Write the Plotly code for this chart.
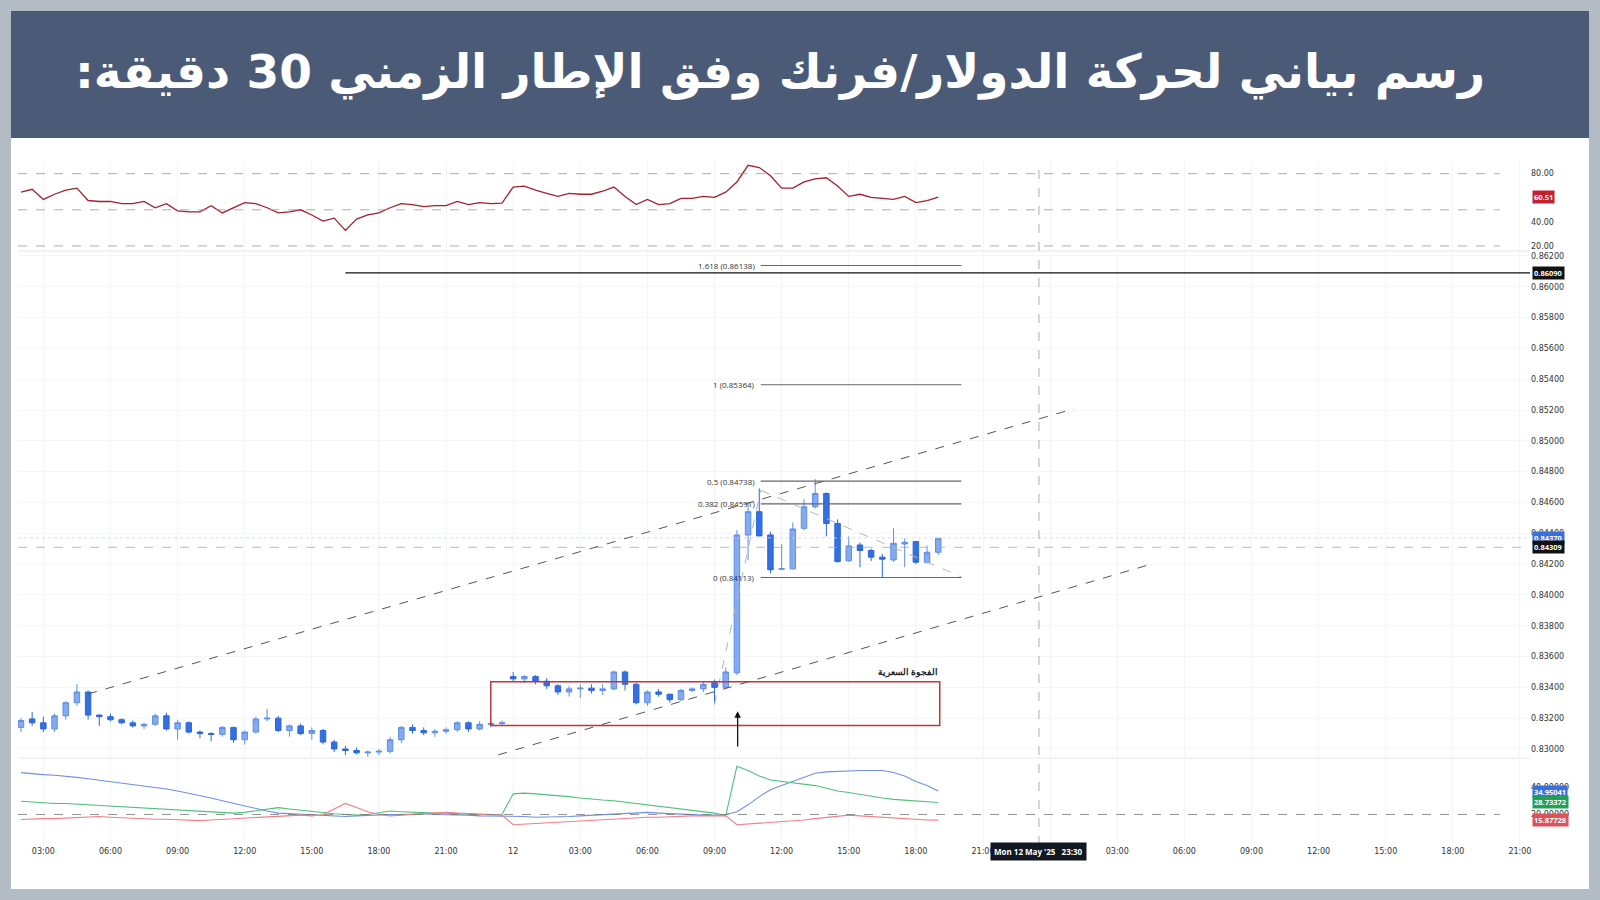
import plotly.graph_objects as go
import pandas as pd

# ---- data (30 minute candles, 11 May 02:00 -> 12 May 19:00) ----
times = pd.date_range('2025-05-11 02:00', periods=83, freq='30min')

opens = [0.83140, 0.83195, 0.83170, 0.83130, 0.83215, 0.83300, 0.83370, 0.83220, 0.83210, 0.83190,
         0.83170, 0.83150, 0.83160, 0.83215, 0.83130, 0.83170, 0.83110, 0.83100, 0.83095, 0.83140,
         0.83060, 0.83110, 0.83195, 0.83200, 0.83120, 0.83150, 0.83100, 0.83120, 0.83045, 0.83000,
         0.82990, 0.82975, 0.82980, 0.82985, 0.83060, 0.83140, 0.83120, 0.83105, 0.83115, 0.83125,
         0.83170, 0.83130, 0.83160, 0.83165, 0.83470, 0.83455, 0.83470, 0.83440, 0.83410, 0.83370,
         0.83390, 0.83395, 0.83380, 0.83390, 0.83500, 0.83420, 0.83300, 0.83370, 0.83355, 0.83320,
         0.83380, 0.83390, 0.83430, 0.83400, 0.83495, 0.84389, 0.84540, 0.84389, 0.84167, 0.84169,
         0.84432, 0.84572, 0.84658, 0.84464, 0.84221, 0.84324, 0.84288, 0.84245, 0.84227, 0.84331,
         0.84346, 0.84210, 0.84277]
highs = [0.83200, 0.83240, 0.83210, 0.83230, 0.83310, 0.83420, 0.83380, 0.83225, 0.83230, 0.83200,
         0.83185, 0.83170, 0.83230, 0.83235, 0.83190, 0.83180, 0.83120, 0.83110, 0.83150, 0.83145,
         0.83120, 0.83210, 0.83260, 0.83215, 0.83160, 0.83165, 0.83140, 0.83130, 0.83060, 0.83020,
         0.83010, 0.82990, 0.83000, 0.83080, 0.83150, 0.83160, 0.83140, 0.83130, 0.83140, 0.83180,
         0.83180, 0.83180, 0.83175, 0.83185, 0.83500, 0.83480, 0.83480, 0.83460, 0.83420, 0.83410,
         0.83420, 0.83420, 0.83420, 0.83510, 0.83510, 0.83430, 0.83380, 0.83390, 0.83360, 0.83390,
         0.83400, 0.83440, 0.83450, 0.83530, 0.84420, 0.84594, 0.84691, 0.84410, 0.84329, 0.84470,
         0.84620, 0.84751, 0.84665, 0.84490, 0.84380, 0.84340, 0.84300, 0.84265, 0.84432, 0.84367,
         0.84350, 0.84320, 0.84370]
lows = [0.83110, 0.83150, 0.83110, 0.83110, 0.83190, 0.83280, 0.83190, 0.83150, 0.83180, 0.83160,
        0.83140, 0.83130, 0.83150, 0.83120, 0.83060, 0.83100, 0.83070, 0.83050, 0.83080, 0.83040,
        0.83030, 0.83100, 0.83180, 0.83110, 0.83080, 0.83090, 0.83060, 0.83030, 0.82980, 0.82960,
        0.82965, 0.82950, 0.82960, 0.82970, 0.83040, 0.83100, 0.83090, 0.83080, 0.83100, 0.83110,
        0.83110, 0.83120, 0.83140, 0.83150, 0.83440, 0.83430, 0.83420, 0.83390, 0.83350, 0.83340,
        0.83330, 0.83360, 0.83350, 0.83380, 0.83380, 0.83290, 0.83280, 0.83340, 0.83300, 0.83310,
        0.83370, 0.83370, 0.83290, 0.83390, 0.83480, 0.84227, 0.84380, 0.84140, 0.84160, 0.84165,
        0.84420, 0.84560, 0.84380, 0.84210, 0.84215, 0.84180, 0.84220, 0.84113, 0.84215, 0.84180,
        0.84200, 0.84205, 0.84260]
closes = [0.83185, 0.83170, 0.83130, 0.83215, 0.83300, 0.83370, 0.83220, 0.83210, 0.83190, 0.83170,
          0.83150, 0.83160, 0.83215, 0.83130, 0.83170, 0.83110, 0.83100, 0.83095, 0.83140, 0.83060,
          0.83110, 0.83195, 0.83200, 0.83120, 0.83150, 0.83100, 0.83120, 0.83045, 0.83000, 0.82990,
          0.82975, 0.82980, 0.82985, 0.83060, 0.83140, 0.83120, 0.83105, 0.83115, 0.83125, 0.83170,
          0.83130, 0.83160, 0.83165, 0.83170, 0.83455, 0.83470, 0.83440, 0.83410, 0.83370, 0.83390,
          0.83395, 0.83380, 0.83390, 0.83500, 0.83420, 0.83300, 0.83370, 0.83355, 0.83320, 0.83380,
          0.83390, 0.83420, 0.83400, 0.83500, 0.84389, 0.84540, 0.84383, 0.84163, 0.84170, 0.84428,
          0.84572, 0.84658, 0.84464, 0.84216, 0.84318, 0.84288, 0.84245, 0.84232, 0.84335, 0.84341,
          0.84212, 0.84277, 0.84367]

rsi = [64.6, 67, 58.6, 62.9, 66.3, 68, 57.7, 56.9, 56.9, 55.1, 55.1, 56.9, 51.7, 55.1, 49.1, 48.3,
       48.3, 53.4, 47.4, 51.7, 56, 55.1, 51.7, 47.4, 48.3, 50, 45.7, 40.6, 43.1, 32.9, 42.3, 45.7,
       47.4, 51.7, 55.1, 54.3, 52.6, 53.4, 53.4, 56.9, 54.3, 56, 55.1, 55.5, 68.9, 69.7, 66.3, 63.7,
       61.1, 63.7, 62.9, 62.9, 65.4, 68.9, 61.1, 54.3, 58.6, 54.3, 55.1, 59.4, 59.4, 61.1, 60.3, 64.6,
       73.1, 86.9, 85.1, 78.3, 68, 68, 73.1, 75.7, 76.6, 69.7, 61.1, 62.9, 60.3, 59.4, 58.6, 61.1,
       56, 57.7, 60.5]

adx = [50.4, 49.5, 49, 48.5, 48, 47, 46, 45, 44, 43, 42, 41, 40, 38.5, 37, 35.5, 34, 32, 30, 28,
       26, 24, 22.5, 21, 20.5, 20, 19.5, 19, 18.5, 18.5, 19, 19.5, 19.5, 20, 20, 20.5, 20.5, 20, 20,
       19.5, 19.5, 19, 19, 19, 18.5, 18.5, 18, 18, 18, 18.5, 19, 19.5, 20, 20.5, 21, 21.5, 21.5, 21,
       20.5, 20, 20, 19.5, 19.5, 20, 22, 27, 33, 38, 41, 44, 47, 50, 51, 51.5, 52, 52, 52, 52, 50.5,
       48, 44, 41, 37]
plus_di = [29.6, 29, 28.5, 28, 28, 27.5, 27, 27, 26.5, 26, 25.5, 25, 24.5, 24, 23.5, 23, 22.5, 22,
           21.5, 21, 21.5, 22.5, 24, 25, 24, 23, 22, 21, 20.5, 20, 19.5, 20, 21.5, 22.5, 22, 21.5, 21,
           21, 21, 20.5, 20.5, 20, 20, 20, 35, 35.5, 35, 34.5, 34, 33, 32, 31, 30.5, 30, 29, 28, 27, 26,
           25, 24, 23, 22, 21, 19, 55, 52, 48, 45, 44, 43, 42, 41, 39, 37, 36, 34.5, 33.5, 32, 31, 30.5,
           30, 29.5, 28.7]
minus_di = [16.3, 16.8, 17, 17, 17.5, 18, 18.5, 18.5, 18, 17.5, 17.5, 17, 16.5, 16.5, 16, 15.5, 15.5,
            16, 16.5, 17, 17.5, 18, 18.5, 19, 19.5, 19.5, 19, 20, 24, 28, 25, 22, 20, 19, 19.5, 20, 20.5,
            21, 21.5, 21, 20.5, 20, 19.5, 19.5, 12.5, 13, 13, 13.5, 14, 14.5, 15, 15.5, 16, 16.5, 17, 17.5,
            18, 18, 18.5, 18.5, 19, 19, 19, 19, 12.5, 13, 13.5, 14, 14.5, 15, 16, 17, 18, 19, 19.5, 19,
            18.5, 18, 17, 16.5, 16, 16, 15.9]

# fibonacci levels
fib_names = ['1.618', '1', '0.5', '0.382', '0']
fib_prices = [0.86138, 0.85364, 0.84738, 0.84591, 0.84113]
fib_start, fib_end = '2025-05-12 11:04', '2025-05-12 20:02'

# channel / drawing points
upper_ch = (['2025-05-11 05:00', '2025-05-13 01:04'], [0.83357, 0.85208])
lower_ch = (['2025-05-11 23:20', '2025-05-13 04:36'], [0.82962, 0.84203])
zig_x = ['2025-05-12 09:00', '2025-05-12 11:04', '2025-05-12 20:02']
zig_y = [0.83291, 0.84679, 0.84117]
gap_box = (['2025-05-11 23:00', '2025-05-12 19:04'], [0.83152, 0.83436])
arrow_pt = ('2025-05-12 10:02', 0.83007, 0.83245)
cross_t = '2025-05-12 23:30'
level_line = ('2025-05-11 16:30', '2025-05-13 21:27', 0.86090)
last_price, bid_price = 0.84309, 0.84370

tick_vals = pd.date_range('2025-05-11 03:00', '2025-05-13 21:00', freq='3h')
tick_text = ['12' if (t.hour == 0 and t.day == 12) else ('13' if t.hour == 0 else t.strftime('%H:%M'))
             for t in tick_vals]

# ---- figure ----
W, H = 1600, 900
L, R, T, B = 18, 1530, 161, 845


def px(x):
    return (x - L) / (R - L)


def py(y):
    return (B - y) / (B - T)


fig = go.Figure()

fig.add_trace(go.Candlestick(
    x=times, open=opens, high=highs, low=lows, close=closes, yaxis='y2',
    increasing=dict(line=dict(color='#5d8ee9', width=1), fillcolor='#85aaf0'),
    decreasing=dict(line=dict(color='#2e68dd', width=1), fillcolor='#3470e0'),
    whiskerwidth=0, showlegend=False, hoverinfo='skip'))

fig.add_trace(go.Scatter(x=times, y=rsi, yaxis='y', mode='lines',
                         line=dict(color='#a3202c', width=1.3), showlegend=False, hoverinfo='skip'))

for vals, col in [(adx, '#6f8fe8'), (plus_di, '#4fbf7a'), (minus_di, '#f07f86')]:
    fig.add_trace(go.Scatter(x=times, y=vals, yaxis='y3', mode='lines',
                             line=dict(color=col, width=1.1), showlegend=False, hoverinfo='skip'))

shapes = []
# banner + white panel
shapes.append(dict(type='rect', xref='paper', yref='paper', x0=px(11), x1=px(1589), y0=py(11), y1=py(138),
                   fillcolor='#4b5b77', line=dict(width=0), layer='below'))
shapes.append(dict(type='rect', xref='paper', yref='paper', x0=px(11), x1=px(1589), y0=py(138), y1=py(889),
                   fillcolor='white', line=dict(width=0), layer='below'))
# pane separators
for yy in [251, 758]:
    shapes.append(dict(type='line', xref='paper', yref='paper', x0=0, x1=1, y0=py(yy), y1=py(yy),
                       line=dict(color='#e6e6e6', width=1)))
# rsi levels
for lv in [80, 50, 20]:
    shapes.append(dict(type='line', xref='paper', yref='y', x0=0, x1=0.98, y0=lv, y1=lv,
                       line=dict(color='#999999', width=0.8, dash='dash')))
shapes.append(dict(type='line', xref='paper', yref='y3', x0=0, x1=0.98, y0=20, y1=20,
                   line=dict(color='#777777', width=0.8, dash='dash')))
# price lines
shapes.append(dict(type='line', xref='x', yref='y2', x0=level_line[0], x1=level_line[1],
                   y0=level_line[2], y1=level_line[2], line=dict(color='#111111', width=1.4)))
shapes.append(dict(type='line', xref='paper', yref='y2', x0=0, x1=1, y0=last_price, y1=last_price,
                   line=dict(color='#aaaaaa', width=0.8, dash='dash')))
shapes.append(dict(type='line', xref='paper', yref='y2', x0=0, x1=1, y0=bid_price, y1=bid_price,
                   line=dict(color='#c8d4ea', width=0.8, dash='dot')))
for fp in fib_prices:
    shapes.append(dict(type='line', xref='x', yref='y2', x0=fib_start, x1=fib_end, y0=fp, y1=fp,
                       line=dict(color='#666666', width=1.2)))
for cx, cy in [upper_ch, lower_ch]:
    shapes.append(dict(type='line', xref='x', yref='y2', x0=cx[0], x1=cx[1], y0=cy[0], y1=cy[1],
                       line=dict(color='#555555', width=1, dash='dash')))
for k in range(2):
    shapes.append(dict(type='line', xref='x', yref='y2', x0=zig_x[k], x1=zig_x[k + 1], y0=zig_y[k], y1=zig_y[k + 1],
                       line=dict(color='#b5b5b5', width=1, dash='dash')))
shapes.append(dict(type='rect', xref='x', yref='y2', x0=gap_box[0][0], x1=gap_box[0][1],
                   y0=gap_box[1][0], y1=gap_box[1][1], line=dict(color='#c4323c', width=1.5)))
shapes.append(dict(type='line', xref='x', yref='paper', x0=cross_t, x1=cross_t, y0=0, y1=1,
                   line=dict(color='#999999', width=0.8, dash='dash')))
fig.update_layout(shapes=shapes)

ann = []
title_text = '\u202bرسم بياني لحركة الدولار/فرنك وفق الإطار الزمني 30 دقيقة:\u202c'
ann.append(dict(text=f'<b>{title_text}</b>', xref='paper', yref='paper',
                x=px(780), y=py(72), yanchor='middle', showarrow=False,
                font=dict(size=47, color='white', family='DejaVu Sans')))
for nm, fp in zip(fib_names, fib_prices):
    ann.append(dict(text=f'{nm} ({fp:.5f})', xref='x', yref='y2', x=fib_start, y=fp, xanchor='right',
                    xshift=-4, showarrow=False, font=dict(size=8, color='#333')))
ann.append(dict(text='<b>الفجوة السعرية</b>', xref='x', yref='y2', x=gap_box[0][1], y=gap_box[1][1],
                xanchor='right', yanchor='bottom', yshift=2, showarrow=False, font=dict(size=9, color='#222')))
ann.append(dict(x=arrow_pt[0], y=arrow_pt[2], ax=arrow_pt[0], ay=arrow_pt[1], xref='x', yref='y2',
                axref='x', ayref='y2', showarrow=True, arrowhead=2, arrowwidth=1.3, arrowcolor='#111', text=''))


def tag(text, yref, y, bg, fg='white'):
    ann.append(dict(text=f'<b>{text}</b>', xref='paper', yref=yref, x=1.001, y=y, xanchor='left',
                    showarrow=False, bgcolor=bg, font=dict(size=7.5, color=fg), borderpad=1))


tag('60.51', 'y', 60.51, '#c0232f')
tag('0.86090', 'y2', 0.86090, '#111111')
tag('0.84370', 'y2', bid_price, '#3a6fe0')
tag('0.84309', 'y2', last_price, '#111111')
tag('34.95041', 'y3', 36.5, '#3a6fe0')
tag('28.73372', 'y3', 28.73, '#22a05a')
tag('15.87728', 'y3', 15.88, '#e0505a')
ann.append(dict(text="<b>Mon 12 May '25   23:30</b>", xref='x', yref='paper', x=cross_t, y=py(861),
                showarrow=False, bgcolor='#131722', font=dict(size=8, color='white'), borderpad=3))
fig.update_layout(annotations=ann)

axis_font = dict(size=8, color='#333', family='DejaVu Sans')
fig.update_layout(
    width=W, height=H,
    margin=dict(l=L, r=W - R, t=T, b=H - B),
    paper_bgcolor='#b3bbc5', plot_bgcolor='white',
    xaxis=dict(type='date', range=['2025-05-11 01:52', '2025-05-13 21:27'], anchor='y3',
               tickvals=tick_vals, ticktext=tick_text, tickfont=axis_font, showgrid=True,
               gridcolor='#f3f4f6', rangeslider=dict(visible=False), ticks='', showline=False,
               zeroline=False),
    yaxis=dict(domain=[py(251), 1], range=[15.8, 90.5], side='right', tickvals=[20, 40, 80],
               ticktext=['20.00', '40.00', '80.00'], tickfont=axis_font, showgrid=False, zeroline=False),
    yaxis2=dict(domain=[py(757), py(253)], range=[0.82948, 0.86219], side='right', dtick=0.002,
                tickformat='.5f', tickfont=axis_font, showgrid=True, gridcolor='#f6f6f6', zeroline=False),
    yaxis3=dict(domain=[0, py(760)], range=[-2.2, 59.6], side='right', tickvals=[20, 40],
                ticktext=['20.00000', '40.00000'], tickfont=axis_font, showgrid=False, zeroline=False),
    hovermode=False,
)

fig.write_html('out.html', config={'displayModeBar': False},
               post_script="document.body.style.margin='0';")
